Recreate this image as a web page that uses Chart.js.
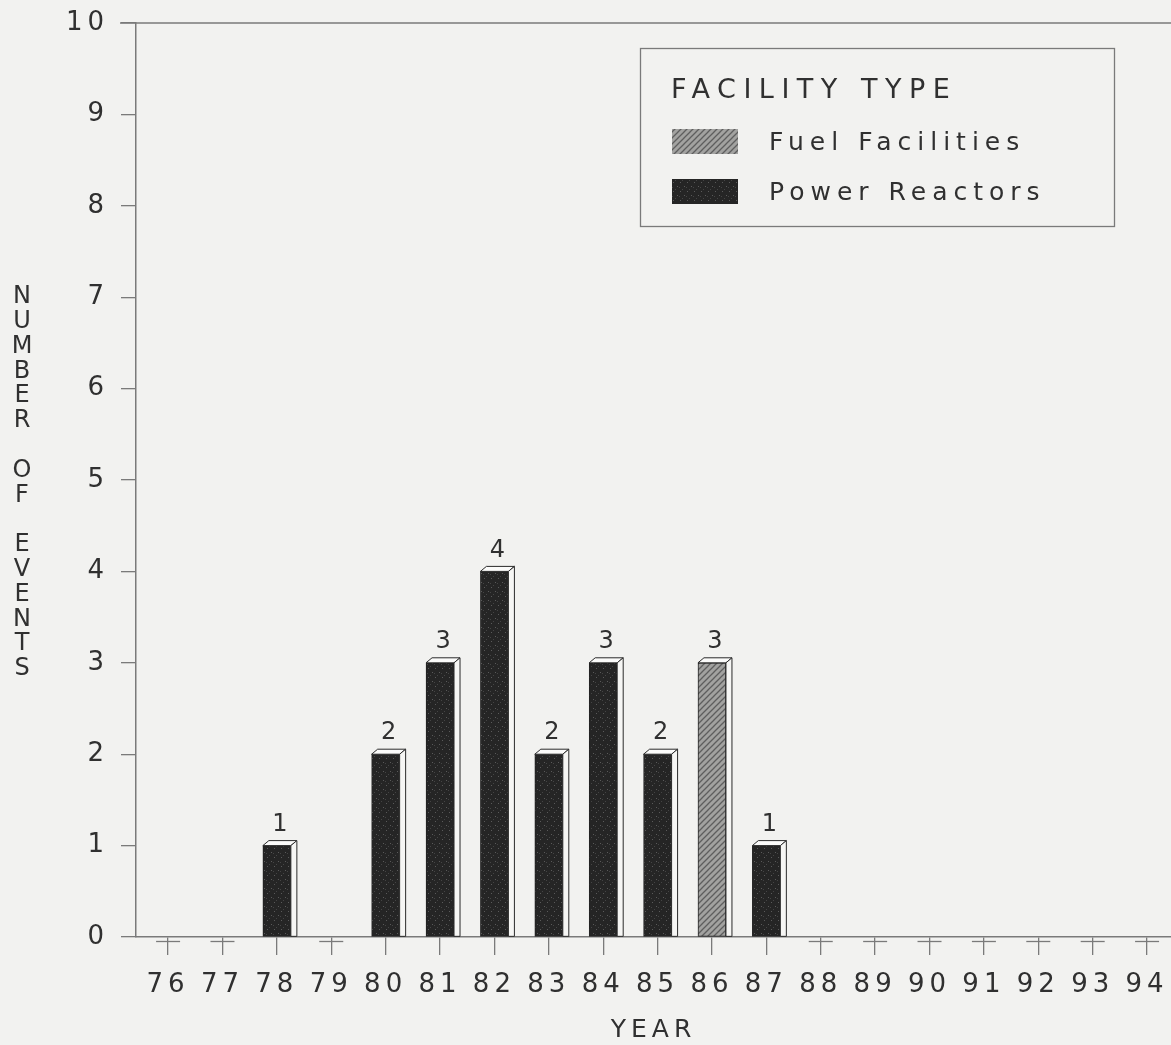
<!DOCTYPE html>
<html>
<head>
<meta charset="UTF-8">
<title>Number of events by year</title>
<script src="https://cdn.jsdelivr.net/npm/chart.js"></script>
<style>
    body { margin: 0; background: #f2f2f0; }
    canvas { display: block; }
</style>
</head>
<body>
<canvas id="chart" width="1171" height="1045"></canvas>
<script>
    // data
    const years = [76, 77, 78, 79, 80, 81, 82, 83, 84, 85, 86, 87, 88, 89, 90, 91, 92, 93, 94];
    const fuelFacilities = [0, 0, 0, 0, 0, 0, 0, 0, 0, 0, 3, 0, 0, 0, 0, 0, 0, 0, 0];
    const powerReactors = [0, 0, 1, 0, 2, 3, 4, 2, 3, 2, 0, 1, 0, 0, 0, 0, 0, 0, 0];
    const seriesNames = ['Fuel Facilities', 'Power Reactors'];
    const yTicks = [0, 1, 2, 3, 4, 5, 6, 7, 8, 9, 10];
    const legendTitle = 'FACILITY TYPE';
    const xTitle = 'YEAR';
    const yTitle = 'NUMBER OF EVENTS';

    const FONT = '"DejaVu Sans", "Liberation Sans", sans-serif';
    const INK = '#303030';
    const LINE = '#7a7a7a';
    const canvas = document.getElementById('chart');

    // fill patterns for the two facility types
    function hatchPattern() {
        const c = document.createElement('canvas');
        c.width = 6; c.height = 6;
        const g = c.getContext('2d');
        g.fillStyle = '#a2a2a0';
        g.fillRect(0, 0, 6, 6);
        g.strokeStyle = '#5e5e5e';
        g.lineWidth = 1.3;
        g.beginPath();
        g.moveTo(-1, 7); g.lineTo(7, -1);
        g.moveTo(-4, 4); g.lineTo(4, -4);
        g.moveTo(2, 10); g.lineTo(10, 2);
        g.stroke();
        return canvas.getContext('2d').createPattern(c, 'repeat');
    }
    function darkPattern() {
        const c = document.createElement('canvas');
        c.width = 7; c.height = 9;
        const g = c.getContext('2d');
        g.fillStyle = '#252525';
        g.fillRect(0, 0, 7, 9);
        g.fillStyle = '#5a5a5a';
        g.fillRect(1, 2, 1, 1);
        g.fillRect(5, 6, 1, 1);
        g.fillStyle = '#444';
        g.fillRect(3, 0, 1, 1);
        g.fillRect(0, 7, 1, 1);
        return canvas.getContext('2d').createPattern(c, 'repeat');
    }
    const fills = [hatchPattern(), darkPattern()];

    const toPoints = arr => arr.map((v, i) => ({ x: years[i], y: v }));

    const spacing = {
        id: 'spacing',
        beforeUpdate(chart) { chart.ctx.letterSpacing = '5px'; },
        beforeDraw(chart) { chart.ctx.letterSpacing = '5px'; }
    };

    const frame = {
        id: 'frame',
        beforeDatasetsDraw(chart) {
            const { ctx, chartArea } = chart;
            ctx.save();
            ctx.strokeStyle = LINE;
            ctx.lineWidth = 1.5;
            ctx.beginPath();
            ctx.moveTo(chartArea.left - 16, chartArea.top);
            ctx.lineTo(chart.width, chartArea.top);
            ctx.stroke();
            ctx.restore();
        },
        afterDraw(chart) {
            const { ctx } = chart;
            ctx.save();
            // stacked vertical axis title
            ctx.fillStyle = INK;
            ctx.font = '24px ' + FONT;
            ctx.letterSpacing = '0px';
            ctx.textAlign = 'center';
            ctx.textBaseline = 'middle';
            yTitle.split('').forEach((ch, i) => {
                if (ch !== ' ') ctx.fillText(ch, 22, 297 + i * 24.8);
            });

            // legend box
            ctx.strokeStyle = LINE;
            ctx.lineWidth = 1.3;
            ctx.strokeRect(640.5, 48.5, 474, 178);
            ctx.textAlign = 'left';
            ctx.letterSpacing = '7.5px';
            ctx.font = '27px ' + FONT;
            ctx.fillText(legendTitle, 671, 91);
            ctx.letterSpacing = '6px';
            ctx.font = '25px ' + FONT;
            seriesNames.forEach((name, i) => {
                const y = 142 + i * 50;
                ctx.fillStyle = fills[i];
                ctx.fillRect(672, y - 13, 66, 25);
                ctx.fillStyle = INK;
                ctx.fillText(name, 769, y + 1);
            });
            ctx.restore();
        }
    };

    const bars3d = {
        id: 'bars3d',
        afterDatasetsDraw(chart) {
            const { ctx } = chart;
            const dx = 6, dy = 5;
            ctx.save();
            ctx.lineWidth = 1;
            ctx.strokeStyle = '#2a2a2a';
            chart.data.datasets.forEach((ds, di) => {
                const meta = chart.getDatasetMeta(di);
                meta.data.forEach((bar, i) => {
                    const v = ds.data[i].y;
                    const { x, y, base, width } = bar.getProps(['x', 'y', 'base', 'width'], true);
                    const x1 = x - width / 2, x2 = x + width / 2;
                    if (v > 0) {
                        // top face
                        ctx.fillStyle = '#fbfbfa';
                        ctx.beginPath();
                        ctx.moveTo(x1, y); ctx.lineTo(x2, y);
                        ctx.lineTo(x2 + dx, y - dy); ctx.lineTo(x1 + dx, y - dy);
                        ctx.closePath();
                        ctx.fill(); ctx.stroke();
                        // side face
                        ctx.fillStyle = '#f6f6f4';
                        ctx.beginPath();
                        ctx.moveTo(x2, y); ctx.lineTo(x2 + dx, y - dy);
                        ctx.lineTo(x2 + dx, base); ctx.lineTo(x2, base);
                        ctx.closePath();
                        ctx.fill(); ctx.stroke();
                        // value label
                        ctx.fillStyle = INK;
                        ctx.font = '24px ' + FONT;
                        ctx.letterSpacing = '0px';
                        ctx.textAlign = 'center';
                        ctx.textBaseline = 'middle';
                        ctx.fillText(String(v), x + dx / 2, y - 21);
                    } else if (di === 1 && fuelFacilities[i] === 0) {
                        // empty year: flat bar stub
                        ctx.strokeStyle = LINE;
                        ctx.lineWidth = 1.3;
                        ctx.beginPath();
                        ctx.moveTo(x - 12, base + 4.5);
                        ctx.lineTo(x + 12, base + 4.5);
                        ctx.stroke();
                        ctx.strokeStyle = '#2a2a2a';
                        ctx.lineWidth = 1;
                    }
                });
            });
            ctx.restore();
        }
    };

    new Chart(canvas, {
        type: 'bar',
        data: {
            datasets: [
                { label: seriesNames[0], data: toPoints(fuelFacilities), backgroundColor: fills[0] },
                { label: seriesNames[1], data: toPoints(powerReactors), backgroundColor: fills[1] }
            ]
        },
        options: {
            responsive: false,
            animation: false,
            events: [],
            layout: { padding: { top: 23, right: 0, left: 0, bottom: 0 } },
            datasets: {
                bar: {
                    grouped: false,
                    barThickness: 28,
                    borderWidth: 1,
                    borderColor: '#222',
                    borderSkipped: false
                }
            },
            plugins: {
                legend: { display: false },
                tooltip: { enabled: false }
            },
            scales: {
                x: {
                    type: 'linear',
                    offset: false,
                    min: 75.41,
                    max: 94.44,
                    afterBuildTicks: s => { s.ticks = years.map(v => ({ value: v })); },
                    afterFit: s => { s.height = 108; s.paddingLeft = 0; s.paddingRight = 0; },
                    grid: { offset: false, drawOnChartArea: false, tickLength: 18, color: LINE, lineWidth: 1.3 },
                    border: { color: LINE, width: 1.5 },
                    ticks: {
                        color: INK,
                        font: { family: FONT, size: 26 },
                        padding: 15,
                        maxRotation: 0,
                        autoSkip: false,
                        callback: v => String(v)
                    },
                    title: {
                        display: true,
                        text: xTitle,
                        color: INK,
                        font: { family: FONT, size: 25 },
                        padding: { top: 0, bottom: 0 }
                    }
                },
                y: {
                    min: 0,
                    max: 10,
                    afterBuildTicks: s => { s.ticks = yTicks.map(v => ({ value: v })); },
                    afterFit: s => { s.width = 136; s.paddingTop = 0; s.paddingBottom = 0; },
                    grid: { drawOnChartArea: false, tickLength: 15, color: LINE, lineWidth: 1.3 },
                    border: { color: LINE, width: 1.5 },
                    ticks: {
                        color: INK,
                        font: { family: FONT, size: 26 },
                        padding: 12
                    }
                }
            }
        },
        plugins: [spacing, frame, bars3d]
    });
</script>
</body>
</html>
